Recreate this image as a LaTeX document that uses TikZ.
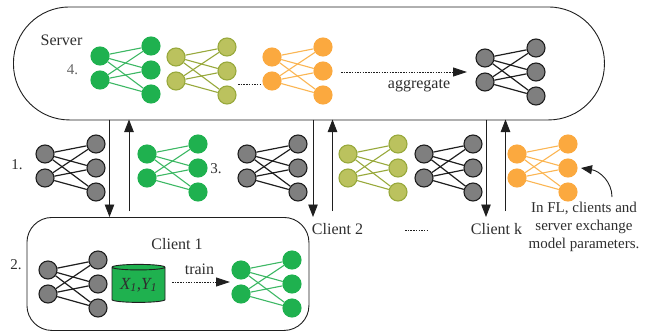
\documentclass[tikz,border=0pt]{standalone}
\usepackage{fontspec}
\setmainfont{Liberation Serif}
\usetikzlibrary{arrows.meta,shapes.geometric}
\definecolor{gfill}{HTML}{1FB14F}
\definecolor{gline}{HTML}{3DB864}
\definecolor{ofill}{HTML}{BBC25E}
\definecolor{oline}{HTML}{98A93C}
\definecolor{afill}{HTML}{FBA93F}
\definecolor{aline}{HTML}{FBB654}
\definecolor{dfill}{HTML}{7F7F7F}
\definecolor{dline}{HTML}{1F1F1F}
\definecolor{txt}{HTML}{2E2E2E}
\tikzset{
  neuron/.style={circle,inner sep=0pt,minimum size=18pt,line width=1.1pt},
  gn/.style={neuron,fill=gfill,draw=gfill},
  on/.style={neuron,fill=ofill,draw=oline},
  an/.style={neuron,fill=afill,draw=afill},
  dn/.style={neuron,fill=dfill,draw=dline},
  ge/.style={draw=gline,line width=1.1pt},
  oe/.style={draw=oline,line width=1.1pt},
  ae/.style={draw=aline,line width=1.1pt},
  de/.style={draw=dline,line width=1.2pt},
  box/.style={draw=dline,line width=0.9pt,fill=white},
  link/.style={draw=dline,line width=0.9pt,-{Triangle[length=12.5pt,width=9.5pt]}},
  dotlink/.style={draw=dline,line width=0.9pt,dash pattern=on 1.5pt off 1.2pt,-{Triangle[length=14pt,width=9pt,sep=0pt]}},
  lab/.style={font=\fontsize{16}{18}\selectfont,text=txt,inner sep=0pt},
  num/.style={font=\fontsize{15}{17}\selectfont,text=txt,inner sep=0pt},
  small/.style={font=\fontsize{15}{18}\selectfont,text=txt,inner sep=0pt,align=center},
}
% #1 name, #2 left x, #3 first-left y, #4 right x, #5 first-right y, #6 kind letter
\newcommand{\nnet}[6]{%
  \node[#6n] (#1a) at (#2,#3) {};
  \node[#6n] (#1b) at (#2,#3+24) {};
  \node[#6n] (#1c) at (#4,#5) {};
  \node[#6n] (#1d) at (#4,#5+24) {};
  \node[#6n] (#1e) at (#4,#5+48) {};
  \foreach \s in {a,b}{\foreach \t in {c,d,e}{\path[#6e] (#1\s) -- (#1\t);}}
}
\begin{document}
\begin{tikzpicture}[x=1pt,y=-1pt]
\useasboundingbox (0,0) rectangle (648,333);
% boxes
\node[box,shape=rectangle,rounded corners=56pt,minimum width=591pt,minimum height=113pt,anchor=north west] (server) at (13,6.5) {};
\node[box,shape=rectangle,rounded corners=25pt,minimum width=282pt,minimum height=113pt,anchor=north west] (client) at (26.5,217) {};
% server nets
\nnet{sg}{100}{56}{151}{46}{g}
\nnet{so}{176}{57}{227}{47}{o}
\nnet{sa}{272}{57}{323}{47}{a}
\nnet{sd}{485}{58}{536}{48}{d}
% middle nets
\nnet{m1}{45}{154}{96}{144}{d}
\nnet{m2}{147}{154}{198}{144}{g}
\nnet{m3}{247}{154}{298}{144}{d}
\nnet{m4}{348}{154}{398}{144}{o}
\nnet{m5}{424}{154}{473}{144}{d}
\nnet{m6}{517}{154}{568}{144}{a}
% client nets
\nnet{c1}{48}{270}{98}{260}{d}
\nnet{c2}{241}{270}{292}{260}{g}
% data cylinder
\node[shape=cylinder,shape border rotate=90,aspect=0.15,draw=dline,line width=0.9pt,fill=gfill,
  minimum width=53pt,minimum height=38pt,inner sep=0pt,text=txt,font=\fontsize{17}{19}\selectfont] (data) at (138.5,285) {$\mathit{X_{1}}$\textit{,}$\mathit{Y_{1}}$};
% coordinates for connectors
\coordinate (d1s) at (109.5,119.5); \coordinate (d1e) at (109.5,217);
\coordinate (u1s) at (129,211);     \coordinate (u1e) at (129,119.5);
\coordinate (d2s) at (313,119.5);   \coordinate (d2e) at (313,217);
\coordinate (u2s) at (332.5,211);   \coordinate (u2e) at (332.5,119.5);
\coordinate (d3s) at (486,119.5);   \coordinate (d3e) at (486,217);
\coordinate (u3s) at (505.5,211);   \coordinate (u3e) at (505.5,119.5);
\foreach \p in {d1,u1,d2,u2,d3,u3}{\path[link] (\p s) -- (\p e);}
\coordinate (agg1) at (341,72); \coordinate (agg2) at (467,72);
\path[dotlink] (agg1) -- (agg2);
\coordinate (tr1) at (172,282); \coordinate (tr2) at (230,282);
\path[dotlink] (tr1) -- (tr2);
\coordinate (dt1) at (238,84.5); \coordinate (dt2) at (261,84.5);
\draw[dline,line width=0.9pt,dash pattern=on 1.5pt off 1.2pt] (dt1) -- (dt2);
\coordinate (dt3) at (405,230.5); \coordinate (dt4) at (428,230.5);
\draw[dline,line width=0.9pt,dash pattern=on 1.5pt off 1.2pt] (dt3) -- (dt4);
% note arrow
\node[small,anchor=north] (note) at (584,202) {In FL, clients and\\server exchange\\model parameters.};
\coordinate (cv1) at (612,197); \coordinate (cv2) at (581,168);
\draw[dline,line width=0.9pt,-{Triangle[length=11pt,width=9pt]}] (cv1) .. controls (612,182) and (600,171) .. (cv2);
% labels
\node[lab] (lserver) at (61.5,40) {Server};
\node[num,text=black!60] (l4) at (72.5,70) {4.};
\node[lab] (lagg) at (419,86) {aggregate};
\node[num] (l1) at (17,165) {1.};
\node[num] (l3) at (216,169) {3.};
\node[num] (l2) at (16,265) {2.};
\node[lab] (lc1) at (177,244) {Client 1};
\node[lab] (ltrain) at (199.5,269) {train};
\node[lab] (lc2) at (337.5,229) {Client 2};
\node[lab] (lck) at (496.5,229) {Client k};
\end{tikzpicture}
\end{document}
